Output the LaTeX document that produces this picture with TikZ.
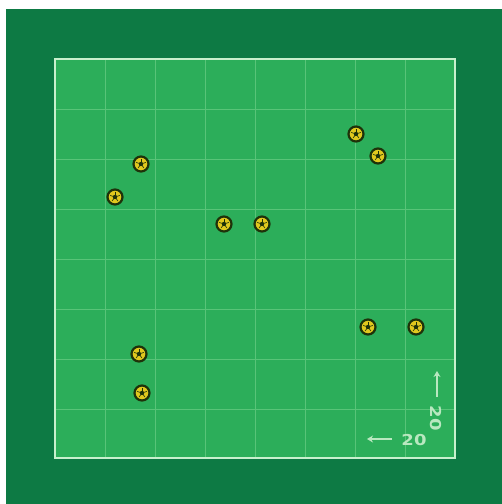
\documentclass[tikz,border=0pt]{standalone}
\usepackage{fontspec}
\setsansfont{DejaVu Sans}
\usetikzlibrary{arrows.meta}
\definecolor{outergreen}{RGB}{13,122,68}
\definecolor{fieldgreen}{RGB}{44,174,90}
\definecolor{gridgreen}{RGB}{88,196,120}
\definecolor{linewhite}{RGB}{200,240,205}
\definecolor{balldark}{RGB}{30,50,10}
\definecolor{ballyellow}{RGB}{225,200,30}
\definecolor{labelgreen}{RGB}{185,232,192}
\tikzset{
  ball/.style={circle,draw=balldark,line width=2.2pt,fill=ballyellow,minimum size=15pt,inner sep=0pt,
    path picture={\fill[balldark] (path picture bounding box.center) circle (2.2pt);
      \foreach \a in {90,162,234,306,18}{\draw[balldark,line width=0.6pt] (path picture bounding box.center) -- ++(\a:5pt);}}},
  lbl/.style={text=labelgreen,font=\sffamily\bfseries\fontsize{15}{15}\selectfont,inner sep=0pt},
  arr/.style={draw=labelgreen,line width=2pt,-{Stealth[length=6pt,width=7pt]}}
}
\begin{document}
\begin{tikzpicture}[x=1pt,y=-1pt]
\useasboundingbox (0,0) rectangle (502,504);
\fill[white] (0,0) rectangle (502,504);
\fill[outergreen] (6,9) rectangle (502,504);
\fill[fieldgreen] (55,59) rectangle (455,458);
\foreach \x in {105,155,205,255,305,355,405}{\draw[gridgreen,line width=0.8pt] (\x,59) -- (\x,458);}
\foreach \y in {109,159,209,259,309,359,409}{\draw[gridgreen,line width=0.8pt] (55,\y) -- (455,\y);}
\draw[linewhite,line width=1.8pt] (55,59) rectangle (455,458);
\node[ball] (b1) at (356,134) {};
\node[ball] (b2) at (378,156) {};
\node[ball] (b3) at (141,164) {};
\node[ball] (b4) at (115,197) {};
\node[ball] (b5) at (224,224) {};
\node[ball] (b6) at (262,224) {};
\node[ball] (b7) at (368,327) {};
\node[ball] (b8) at (416,327) {};
\node[ball] (b9) at (139,354) {};
\node[ball] (b10) at (142,393) {};
\node[lbl,xscale=1.2] (h) at (414,440) {20};
\node[lbl,rotate=-90,xscale=1.2] (v) at (436,418) {20};
\coordinate (ha0) at (392,439);
\coordinate (ha) at (367,439);
\coordinate (va0) at (437,397);
\coordinate (va) at (437,371);
\draw[arr] (ha0) -- (ha);
\draw[arr] (va0) -- (va);
\end{tikzpicture}
\end{document}
